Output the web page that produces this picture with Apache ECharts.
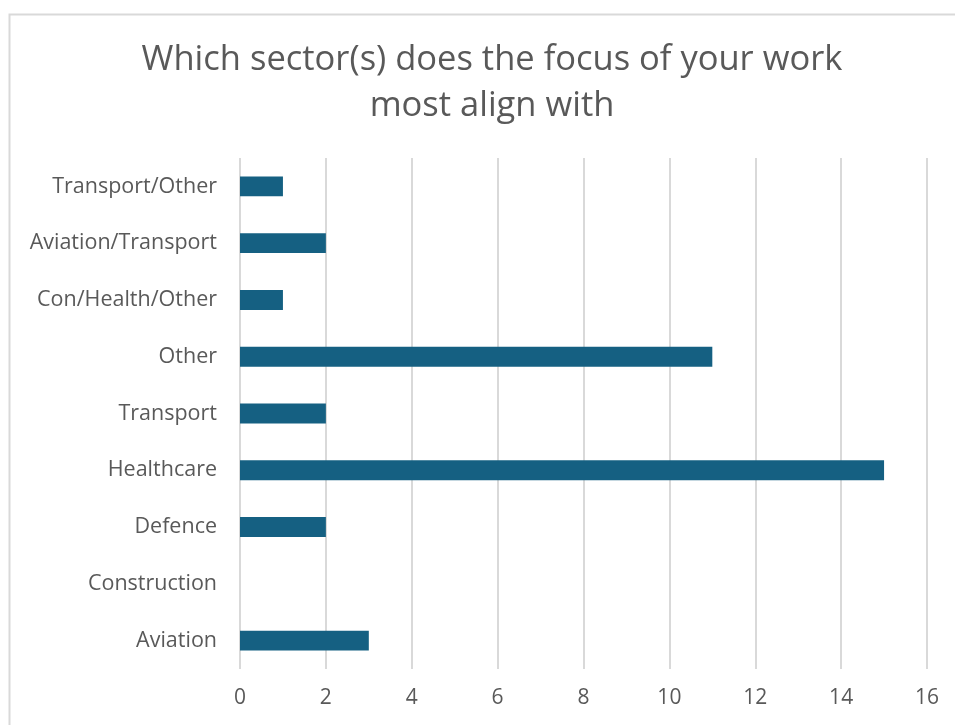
<!DOCTYPE html>
<html>
<head>
<meta charset="utf-8">
<script src="https://cdn.jsdelivr.net/npm/echarts@6/dist/echarts.min.js"></script>
<style>
html,body{margin:0;padding:0;background:#fff;}
#c{width:955px;height:725px;}
</style>
</head>
<body>
<div id="c"></div>
<script>
var categories = ["Aviation","Construction","Defence","Healthcare","Transport","Other","Con/Health/Other","Aviation/Transport","Transport/Other"];
var values = [3,0,2,15,2,11,1,2,1];
var xTicks = [0,2,4,6,8,10,12,14,16];

var chart = echarts.init(document.getElementById('c'));
chart.setOption({
  animation:false,
  backgroundColor:'#fff',
  graphic:[{type:'rect',shape:{x:9.5,y:14.5,width:1000,height:800},style:{fill:'none',stroke:'#d9d9d9',lineWidth:2},silent:true}],
  title:{
    text:'Which sector(s) does the focus of your work\nmost align with',
    left:487, top:32, textAlign:'center',
    textStyle:{fontFamily:'Open Sans',fontSize:34.5,fontWeight:'normal',color:'#595959',lineHeight:46}
  },
  grid:{left:240,right:28,top:158,bottom:56,containLabel:false},
  xAxis:{
    type:'value',min:0,max:16,interval:2,
    axisLine:{show:false},axisTick:{show:false},
    splitLine:{lineStyle:{color:'#d9d9d9',width:2}},
    axisLabel:{color:'#595959',fontSize:21,fontFamily:'Open Sans',margin:19,
      formatter:function(v){return xTicks.indexOf(v)>=0?String(v):'';}}
  },
  yAxis:{
    type:'category',data:categories,
    axisLine:{show:false},axisTick:{show:false},
    axisLabel:{color:'#595959',fontSize:21.5,fontFamily:'Open Sans',margin:23}
  },
  series:[{type:'bar',data:values,barWidth:'35%',itemStyle:{color:'#156082'}}]
});
</script>
</body>
</html>
